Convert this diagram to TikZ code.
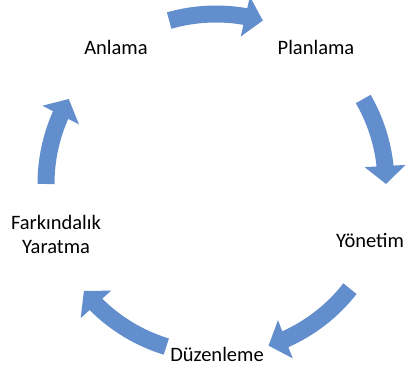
\documentclass[tikz,border=0pt]{standalone}
\usepackage{fontspec}
\setmainfont{Carlito}
\usetikzlibrary{arrows.meta,bending}

\definecolor{cycblue}{RGB}{98,142,206}

\tikzstyle{stage} = [text centered, align=center, inner sep=0pt, font=\fontsize{20.5}{24}\selectfont]
\tikzstyle{cycarrow} = [line width=17pt, draw=cycblue, -{Triangle[width=40pt,length=18pt]}]

\begin{document}
\begin{tikzpicture}[x=1pt,y=1pt]
        \useasboundingbox (0,0) rectangle (412,366);
        \coordinate (c) at (216,182);

        \node (anlama) [stage] at (116,319) {Anlama};
        \node (planlama) [stage] at (316,319) {Planlama};
        \node (yonetim) [stage] at (370,126) {Yönetim};
        \node (duzenleme) [stage] at (217,12) {Düzenleme};
        \node (farkindalik) [stage] at (56,132) {Farkındalık\\Yaratma};

        % tails of the cycle arrows
        \coordinate (t1) at ([shift={(106:170pt)}]c);
        \coordinate (t2) at ([shift={(30:170pt)}]c);
        \coordinate (t3) at ([shift={(-38:170pt)}]c);
        \coordinate (t4) at ([shift={(253:170pt)}]c);
        \coordinate (t5) at ([shift={(180:170pt)}]c);

        \draw [cycarrow] (t1) arc[start angle=106, end angle=74, radius=170pt];
        \draw [cycarrow] (t2) arc[start angle=30, end angle=0, radius=170pt];
        \draw [cycarrow] (t3) arc[start angle=-38, end angle=-72, radius=170pt];
        \draw [cycarrow] (t4) arc[start angle=253, end angle=219, radius=170pt];
        \draw [cycarrow] (t5) arc[start angle=180, end angle=150, radius=170pt];
    \end{tikzpicture}
\end{document}
